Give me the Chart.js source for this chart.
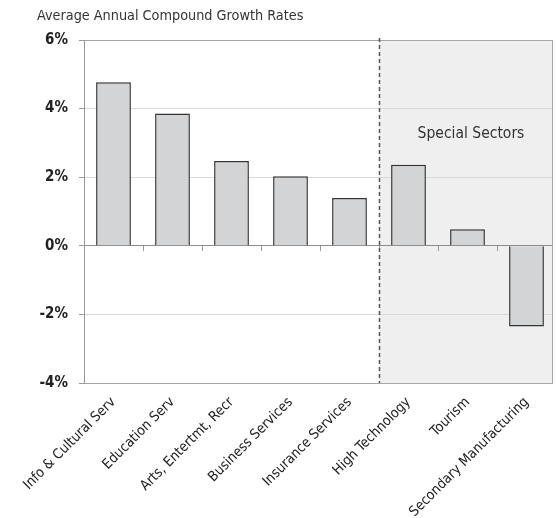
<!DOCTYPE html>
<html>
<head>
<meta charset="utf-8">
<script src="https://cdn.jsdelivr.net/npm/chart.js@4/dist/chart.umd.min.js"></script>
<style>
  html, body { margin: 0; padding: 0; background: #fff; }
  #wrap { width: 556px; height: 518px; }
</style>
</head>
<body>
<div id="wrap"><canvas id="growthChart" width="556" height="518"></canvas></div>
<script>
// data
const categories = ['Info & Cultural Serv', 'Education Serv', 'Arts, Entertmt, Recr', 'Business Services',
  'Insurance Services', 'High Technology', 'Tourism', 'Secondary Manufacturing'];
const growthRates = [4.77, 3.86, 2.47, 2.03, 1.39, 2.36, 0.48, -2.35];
const yTicks = [-4, -2, 0, 2, 4, 6];
const chartTitle = 'Average Annual Compound Growth Rates';
const specialLabel = 'Special Sectors';
const specialFrom = 5; // first "special" category

const FONT = "'Liberation Sans Narrow', 'DejaVu Sans Condensed', sans-serif";
const FRAME_INSET = 3; // plot frame sits a little inside the last category

// shading, dashed divider, frame and texts
const extras = {
  id: 'extras',
  beforeDraw(chart) {
    const { ctx, chartArea: a, scales } = chart;
    const xs = scales.x;
    const divX = (xs.getPixelForValue(specialFrom - 1) + xs.getPixelForValue(specialFrom)) / 2;
    const right = a.right - FRAME_INSET;
    ctx.save();
    ctx.fillStyle = '#efefef';
    ctx.fillRect(divX, a.top, right - divX, a.bottom - a.top);
    ctx.fillStyle = '#333';
    ctx.font = '14.3px ' + FONT;
    ctx.textBaseline = 'alphabetic';
    ctx.textAlign = 'left';
    ctx.fillText(chartTitle, 37, 20);
    ctx.restore();
  },
  afterDatasetsDraw(chart) {
    const { ctx, chartArea: a, scales } = chart;
    const xs = scales.x;
    const divX = (xs.getPixelForValue(specialFrom - 1) + xs.getPixelForValue(specialFrom)) / 2;
    const right = a.right - FRAME_INSET;
    ctx.save();
    // hide grid ends past the frame
    ctx.fillStyle = '#fff';
    ctx.fillRect(right, a.top - 2, chart.width - right, a.bottom - a.top + 4);
    ctx.strokeStyle = '#555';
    ctx.lineWidth = 1.5;
    ctx.setLineDash([4, 3]);
    ctx.beginPath();
    ctx.moveTo(Math.round(divX) + 0.5, a.top - 2);
    ctx.lineTo(Math.round(divX) + 0.5, a.bottom);
    ctx.stroke();
    ctx.setLineDash([]);
    ctx.strokeStyle = '#a6a6a6';
    ctx.lineWidth = 1;
    ctx.beginPath();
    ctx.moveTo(right - 0.5, a.top);
    ctx.lineTo(right - 0.5, a.bottom);
    ctx.stroke();
    ctx.fillStyle = '#333';
    ctx.font = '15.5px ' + FONT;
    ctx.textAlign = 'center';
    ctx.textBaseline = 'middle';
    ctx.fillText(specialLabel, (divX + right) / 2 + 5, scales.y.getPixelForValue(3.25));
    ctx.restore();
  }
};

new Chart(document.getElementById('growthChart'), {
  type: 'bar',
  data: {
    labels: categories,
    datasets: [{
      data: growthRates,
      backgroundColor: '#d3d4d6',
      borderColor: '#333',
      borderWidth: 1.5,
      barPercentage: 0.59,
      categoryPercentage: 1
    }]
  },
  options: {
    responsive: false,
    animation: false,
    layout: { padding: { top: 40, right: 0, left: 0, bottom: 0 } },
    plugins: {
      legend: { display: false },
      tooltip: { enabled: false },
      title: { display: false }
    },
    scales: {
      x: {
        position: { y: 0 },
        offset: true,
        grid: { offset: true, drawOnChartArea: false, tickLength: 5, color: '#999' },
        border: { color: '#8c8c8c', width: 1 },
        ticks: { display: false }
      },
      xl: {
        type: 'category',
        labels: categories,
        position: 'bottom',
        offset: true,
        grid: { display: false },
        border: { display: false },
        ticks: {
          autoSkip: false, maxRotation: 45, minRotation: 45, padding: 3,
          color: '#222', font: { family: FONT, size: 14 }
        },
        afterFit: s => { s.height = 135; }
      },
      y: {
        min: -4,
        max: 6,
        afterBuildTicks: s => { s.ticks = yTicks.map(v => ({ value: v })); },
        grid: {
          tickLength: 5,
          tickColor: '#999',
          color: c => {
            const v = c.tick.value;
            if (v === 0) return '#8c8c8c';
            if (v === -4 || v === 6) return '#a6a6a6';
            return '#d9d9d9';
          }
        },
        border: { color: '#999' },
        ticks: {
          padding: 11,
          color: '#222',
          font: { family: FONT, size: 15, weight: 'bold' },
          callback: v => v + '%'
        },
        afterFit: s => { s.width = 84; }
      }
    }
  },
  plugins: [extras]
});
</script>
</body>
</html>
